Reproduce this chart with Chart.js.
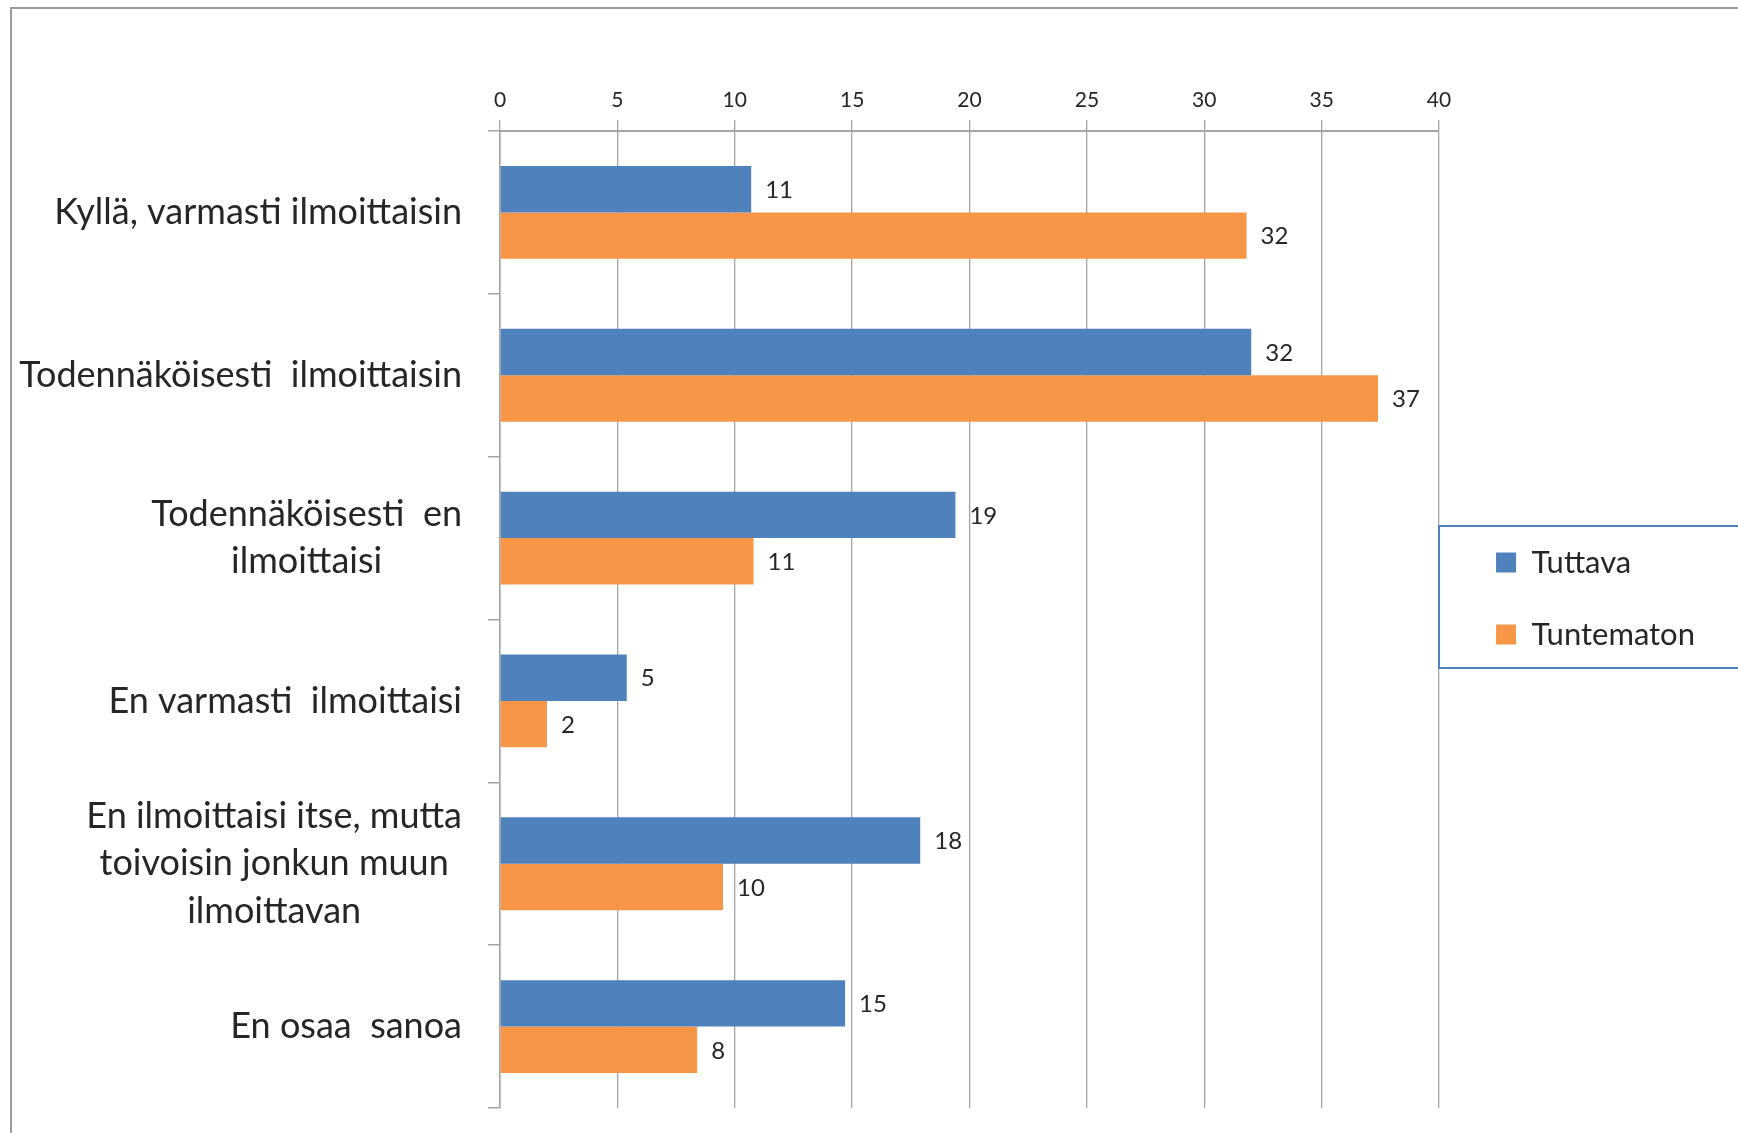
<!DOCTYPE html>
<html>
<head>
<meta charset="utf-8">
<script src="https://cdn.jsdelivr.net/npm/chart.js@4.4.1/dist/chart.umd.min.js"></script>
<style>
  html, body { margin: 0; padding: 0; background: #ffffff; overflow: hidden; }
  #wrap { width: 1738px; height: 1133px; position: relative; }
</style>
</head>
<body>
<div id="wrap"><canvas id="c"></canvas></div>
<script>
const categories = [
  "Kyllä, varmasti ilmoittaisin",
  "Todennäköisesti  ilmoittaisin",
  ["Todennäköisesti  en", "ilmoittaisi"],
  "En varmasti  ilmoittaisi",
  ["En ilmoittaisi itse, mutta", "toivoisin jonkun muun", "ilmoittavan"],
  "En osaa  sanoa"
];
const seriesNames = ["Tuttava", "Tuntematon"];
const tuttava = [10.7, 32.0, 19.4, 5.4, 17.9, 14.7];
const tuntematon = [31.8, 37.4, 10.8, 2.0, 9.5, 8.4];
const xTicks = [0, 5, 10, 15, 20, 25, 30, 35, 40];

const FONT = "Lato";
const TEXT = "#262626";
const GRID = "#a3a3a3";

const outerBorder = {
  id: "outerBorder",
  afterDraw(chart) {
    const ctx = chart.ctx;
    ctx.save();
    ctx.strokeStyle = "#9a9a9a";
    ctx.lineWidth = 2;
    ctx.strokeRect(11, 8, 1900, 1300);
    ctx.restore();
  }
};

const legendBorder = {
  id: "legendBorder",
  afterDraw(chart) {
    const ctx = chart.ctx;
    ctx.save();
    ctx.strokeStyle = "#4f81bd";
    ctx.lineWidth = 2;
    ctx.strokeRect(chart.chartArea.right, 526, 500, 142);
    ctx.restore();
  }
};

const valueLabels = {
  id: "valueLabels",
  afterDatasetsDraw(chart) {
    const ctx = chart.ctx;
    ctx.save();
    ctx.font = "24px " + FONT;
    ctx.fillStyle = TEXT;
    ctx.textAlign = "left";
    ctx.textBaseline = "middle";
    chart.data.datasets.forEach((ds, di) => {
      const meta = chart.getDatasetMeta(di);
      meta.data.forEach((bar, i) => {
        ctx.fillText(String(Math.round(ds.data[i])), bar.x + 14, bar.y + 1);
      });
    });
    ctx.restore();
  }
};

const categoryLabels = {
  id: "categoryLabels",
  afterDraw(chart) {
    const ctx = chart.ctx;
    const ys = chart.scales.y;
    const right = 462;
    const lh = 47.5;
    ctx.save();
    ctx.font = "36px " + FONT;
    ctx.fillStyle = TEXT;
    ctx.textAlign = "center";
    ctx.textBaseline = "middle";
    categories.forEach((lab, i) => {
      const lines = Array.isArray(lab) ? lab : [lab];
      const maxW = Math.max(...lines.map(l => ctx.measureText(l).width));
      const cx = right - maxW / 2;
      const yc = ys.getPixelForValue(i);
      lines.forEach((l, j) => {
        ctx.fillText(l, cx, yc + (j - (lines.length - 1) / 2) * lh);
      });
    });
    ctx.restore();
  }
};

new Chart(document.getElementById("c"), {
  type: "bar",
  data: {
    labels: categories,
    datasets: [
      { label: seriesNames[0], data: tuttava, backgroundColor: "#4f81bd", borderWidth: 0,
        barPercentage: 1.0, categoryPercentage: 0.57 },
      { label: seriesNames[1], data: tuntematon, backgroundColor: "#f79646", borderWidth: 0,
        barPercentage: 1.0, categoryPercentage: 0.57 }
    ]
  },
  options: {
    indexAxis: "y",
    responsive: true,
    maintainAspectRatio: false,
    animation: false,
    layout: { padding: { left: 0, top: 89, bottom: 25, right: 33 } },
    scales: {
      x: {
        position: "top",
        min: 0, max: 40,
        afterBuildTicks: (s) => { s.ticks = xTicks.map(v => ({ value: v })); },
        afterFit: (s) => { s.height = 42; },
        grid: { color: GRID, lineWidth: 1.3, tickLength: 11, drawTicks: true },
        border: { color: GRID, width: 2 },
        ticks: { color: TEXT, font: { family: FONT, size: 21 }, padding: 7, maxRotation: 0 }
      },
      y: {
        position: "left",
        afterFit: (s) => { s.width = 500; },
        grid: { offset: true, drawOnChartArea: false, color: GRID, lineWidth: 1.5, tickLength: 12 },
        border: { color: GRID, width: 1.5 },
        ticks: { display: false }
      },
      spacer: {
        type: "linear",
        position: "right",
        display: true,
        afterFit: (s) => { s.width = 16; },
        grid: { display: false, drawTicks: false },
        border: { display: false },
        ticks: { display: false }
      }
    },
    plugins: {
      legend: {
        position: "right",
        align: "center",
        labels: {
          boxWidth: 20, boxHeight: 20, padding: 41,
          color: TEXT,
          font: { family: FONT, size: 31 }
        }
      },
      tooltip: { enabled: false }
    }
  },
  plugins: [outerBorder, legendBorder, valueLabels, categoryLabels]
});
</script>
</body>
</html>
